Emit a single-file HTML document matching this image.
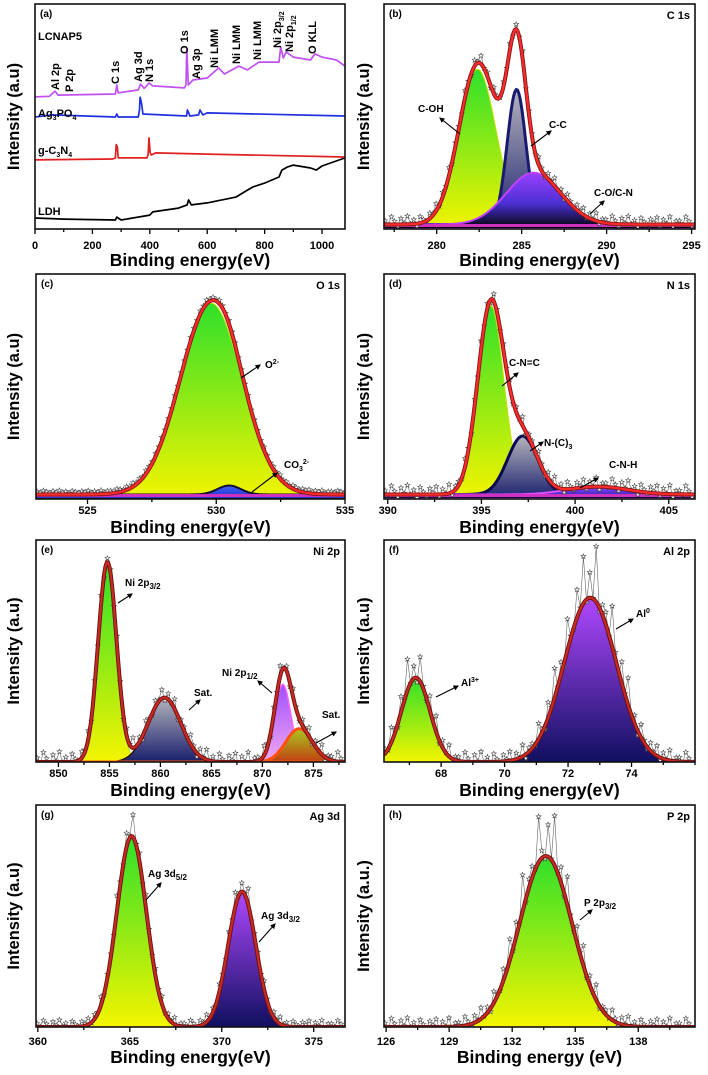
<!DOCTYPE html>
<html><head><meta charset="utf-8">
<style>
html,body{margin:0;padding:0;background:#fff;}
svg{display:block;font-family:"Liberation Sans",Arial,sans-serif;}
</style></head>
<body>
<svg id="fig" width="708" height="1075" viewBox="0 0 708 1075" xmlns="http://www.w3.org/2000/svg">
<defs>
  <symbol id="st" viewBox="-5 -5 10 10"><polygon points="0,-4.5 1.1,-1.4 4.3,-1.4 1.7,0.6 2.7,3.7 0,1.8 -2.7,3.7 -1.7,0.6 -4.3,-1.4 -1.1,-1.4" fill="#fff" stroke="#444" stroke-width="0.9"/></symbol>
  <marker id="ah" viewBox="0 0 10 10" refX="8" refY="5" markerWidth="5" markerHeight="5" orient="auto"><path d="M0,0 L10,5 L0,10 z" fill="#000"/></marker>
  <linearGradient id="gGreen" x1="0" y1="0" x2="0" y2="1"><stop offset="0" stop-color="#2ee02a"/><stop offset="1" stop-color="#f4f400"/></linearGradient>
  <linearGradient id="gNavy" x1="0" y1="0" x2="0" y2="1"><stop offset="0" stop-color="#b4b4bc"/><stop offset="1" stop-color="#1a1f6e"/></linearGradient>
  <linearGradient id="gPurpBlack" x1="0" y1="0" x2="0" y2="1"><stop offset="0" stop-color="#9a40ff"/><stop offset="0.55" stop-color="#4a30d0"/><stop offset="1" stop-color="#000"/></linearGradient>
  <linearGradient id="gViolet" x1="0" y1="0" x2="0" y2="1"><stop offset="0" stop-color="#a050ff"/><stop offset="1" stop-color="#f0a8f0"/></linearGradient>
  <linearGradient id="gOlive" x1="0" y1="0" x2="0" y2="1"><stop offset="0" stop-color="#a8c820"/><stop offset="1" stop-color="#c04010"/></linearGradient>
  <linearGradient id="gVioNavy" x1="0" y1="0" x2="0" y2="1"><stop offset="0" stop-color="#b048ff"/><stop offset="1" stop-color="#101060"/></linearGradient>
  <linearGradient id="gBlue" x1="0" y1="0" x2="0" y2="1"><stop offset="0" stop-color="#4060ff"/><stop offset="1" stop-color="#2030c0"/></linearGradient>
</defs>
</svg>
<script>
// ---------- panel (a) survey data (intensity in % of plot height) ----------
const ldhE=[0,100,280,285,300,400,410,500,530,535,545,600,700,740,760,800,850,860,880,900,960,980,1000,1080];
const ldhI=[4.9,4.4,4,5.3,4,6.2,7.6,9.3,10.7,12.9,10.7,11.6,14.2,17.3,18.7,20.4,23.1,26.2,27.6,28.4,27.1,26.2,28,31.6];
const gcnE=[0,270,280,283,287,290,390,394,397,401,405,420,600,1080];
const gcnI=[30.7,31.1,31.5,37.5,36.4,31.6,31.6,33,40.5,34,32.9,33.8,33.3,32];
const apoE=[0,60,280,285,290,360,364,366,369,372,376,528,531,540,570,575,585,600,1080];
const apoI=[49.8,50.7,49.8,51.1,49.8,49.8,53,58.6,57.3,55,51.1,50.2,52.9,50.2,50.7,52.9,50.7,51.6,50.2];
const lcnE=[0,50,70,80,280,285,290,360,368,380,398,410,520,526,529,534,550,600,640,660,710,740,780,830,850,856,865,875,900,960,975,1000,1050,1080];
const lcnI=[58.7,59,61.3,59.5,60,64,60.5,61.8,64.4,62.5,64.9,63.6,62.7,64,80.4,64,66.2,67.1,71.6,68.9,72.4,70.7,74.2,74.2,74.2,80.9,76,78.7,76.4,75.1,77.8,76.4,75.1,72.4];
const aTicks=[0,200,400,600,800,1000];

// ---------- peak-fit data (center eV, height frac, sigma eV) ----------
const bCenters=[282.4,284.7,285.7]; const bHeights=[0.69,0.6,0.23]; const bWidths=[1.1,0.55,1.6];
const bTicks=[280,285,290,295];
const cCenters=[529.8,530.5]; const cHeights=[0.85,0.04]; const cWidths=[1.2,0.45];
const cTicks=[525,530,535];
const dCenters=[395.5,397.2,401.2]; const dHeights=[0.84,0.26,0.035]; const dWidths=[0.7,0.8,1.6];
const dTicks=[390,395,400,405];
const eCenters=[854.8,860.4,872.0,873.6]; const eHeights=[0.9,0.29,0.35,0.15]; const eWidths=[0.9,1.6,0.8,1.3];
const eTicks=[850,855,860,865,870,875];
const fCenters=[67.2,72.7]; const fHeights=[0.38,0.74]; const fWidths=[0.45,0.82];
const fTicks=[68,70,72,74];
const gCenters=[365.1,371.1]; const gHeights=[0.86,0.61]; const gWidths=[0.8,0.75];
const gTicks=[360,365,370,375];
const hCenters=[133.6]; const hHeights=[0.77]; const hWidths=[1.25];
const hTicks=[126,129,132,135,138];
// scatter offset pattern for raw-data markers
const noise=[0.2,-0.5,0.9,0.1,-0.8,0.6,-0.2,1.0,-0.4,0.3,-0.9,0.7,0.0,-0.6,0.5,-0.1,0.8,-0.7,0.4,-0.3,0.95,-0.85,0.15];

const NS='http://www.w3.org/2000/svg';
const svg=document.getElementById('fig');
function mk(tag,attrs,parent){const e=document.createElementNS(NS,tag);for(const k in attrs)e.setAttribute(k,attrs[k]);(parent||svg).appendChild(e);return e;}
const defs=svg.querySelector('defs');

const panels={
 a:{box:[35,4,345,229],x0:0,x1:1080,ticks:aTicks,minor:100,lab:'(a)',title:'',yt:'Intensity (a.u)',ytx:14,off:[20,37]},
 b:{box:[384,4,695,229],x0:276.9,x1:295.2,ticks:bTicks,minor:2.5,lab:'(b)',title:'C 1s',yt:'Intensity (a.u)',ytx:364,off:[20,37],
    c:bCenters,h:bHeights,w:bWidths,base:0.02,fills:['gGreen','gNavy','gPurpBlack'],strokes:['#c8e000','#1a1a70','#c040ff'],sw:[1,3,2],env:'red',amp:0.025,spike:0},
 c:{box:[36,274,345,499],x0:523,x1:535,ticks:cTicks,minor:2.5,lab:'(c)',title:'O 1s',yt:'Intensity (a.u)',ytx:14,off:[15,34],
    c:cCenters,h:cHeights,w:cWidths,base:0.02,fills:['gGreen','gBlue'],strokes:['#c8e000','#101030'],sw:[1,2],env:'red',amp:0.006,spike:0},
 d:{box:[384,274,695,499],x0:389.8,x1:406.4,ticks:dTicks,minor:2.5,lab:'(d)',title:'N 1s',yt:'Intensity (a.u)',ytx:364,off:[15,34],
    c:dCenters,h:dHeights,w:dWidths,base:0.02,fills:['gGreen','gNavy','gPurpBlack'],strokes:['#c8e000','#0a0a50','#e050ff'],sw:[1,3,2],env:'red',amp:0.03,spike:0},
 e:{box:[36,540,345,762],x0:847.8,x1:878.1,ticks:eTicks,minor:2.5,lab:'(e)',title:'Ni 2p',yt:'Intensity (a.u)',ytx:14,off:[15,34],
    c:eCenters,h:eHeights,w:eWidths,base:0.0,fills:['gGreen','gNavy','gViolet','gOlive'],strokes:['#c8e000','#301010','#ff60ff','#ff5010'],sw:[1,1.5,1.5,3],env:'dark',amp:0.035,spike:0},
 f:{box:[384,540,695,762],x0:66.2,x1:76,ticks:fTicks,minor:1,lab:'(f)',title:'Al 2p',yt:'Intensity (a.u)',ytx:364,off:[15,34],
    c:fCenters,h:fHeights,w:fWidths,base:0.0,fills:['gGreen','gVioNavy'],strokes:['#c8e000','#301010'],sw:[1,1],env:'dark',amp:0.035,spike:0.3},
 g:{box:[36,805,345,1027],x0:359.9,x1:376.7,ticks:gTicks,minor:2.5,lab:'(g)',title:'Ag 3d',yt:'Intensity (a.u)',ytx:14,off:[18,36],
    c:gCenters,h:gHeights,w:gWidths,base:0.0,fills:['gGreen','gVioNavy'],strokes:['#c8e000','#301010'],sw:[1,1],env:'dark',amp:0.02,spike:0.08},
 h:{box:[384,805,695,1027],x0:125.9,x1:140.7,ticks:hTicks,minor:1.5,lab:'(h)',title:'P 2p',yt:'Intensity (a.u.)',ytx:364,off:[18,36],
    c:hCenters,h:hHeights,w:hWidths,base:0.0,fills:['gGreen'],strokes:['#c8e000'],sw:[1],env:'dark',amp:0.03,spike:0.25}
};

function sx(p,v){return p.box[0]+(v-p.x0)/(p.x1-p.x0)*(p.box[2]-p.box[0]);}
function sy(p,v){return p.box[3]-v*(p.box[3]-p.box[1]);}
function gauss(x,c,h,s){return h*Math.exp(-(x-c)*(x-c)/(2*s*s));}
function envAt(p,x){let v=p.base;for(let i=0;i<p.c.length;i++)v+=gauss(x,p.c[i],p.h[i],p.w[i]);return v;}

function frameAndAxes(key,p){
  const g=mk('g',{});
  
  
  const [l,t,r,b]=p.box;
  for(let v=Math.ceil(p.x0/p.minor)*p.minor; v<=p.x1+1e-9; v+=p.minor){
    const X=sx(p,v);const major=p.ticks.some(tk=>Math.abs(tk-v)<1e-6);
    const tk=mk('line',{x1:X,y1:b,x2:X,y2:b+(major?5:3),stroke:'#000','stroke-width':1.3},g);
    
    
  }
  p.ticks.forEach(v=>{
    const tl=mk('text',{x:sx(p,v),y:b+p.off[0],'font-size':11,'font-weight':'bold','text-anchor':'middle'},g);
    tl.textContent=String(v);
    
    
  });
  const fr=mk('rect',{x:l,y:t,width:r-l,height:b-t,fill:'none',stroke:'#111','stroke-width':1.6},g);
  
  
  const xt=mk('text',{x:(l+r)/2,y:b+p.off[1],'font-size':17.5,'font-weight':'bold','text-anchor':'middle'},g);
  xt.textContent=key==='h'?'Binding energy (eV)':'Binding energy(eV)';
  
  
  const cy=(t+b)/2;
  const yt=mk('text',{x:p.ytx,y:cy,'font-size':16.5,'font-weight':'bold','text-anchor':'middle',transform:`rotate(-90 ${p.ytx} ${cy})`,'dominant-baseline':'central'},g);
  yt.textContent=p.yt;
  
  
  const pl=mk('text',{x:l+5,y:t+13,'font-size':10,'font-weight':'bold'},g);
  pl.textContent=p.lab;
  
  
  if(p.title){
    const pt=mk('text',{x:r-5,y:t+15,'font-size':11,'font-weight':'bold','text-anchor':'end'},g);
    pt.textContent=p.title;
    
    
  }
}

function clipFor(key,p){
  const cp=mk('clipPath',{id:'clip'+key},defs);
  mk('rect',{x:p.box[0],y:p.box[1],width:p.box[2]-p.box[0],height:p.box[3]-p.box[1]},cp);
  return 'url(#clip'+key+')';
}

function drawFit(key,p){
  const g=mk('g',{'clip-path':clipFor(key,p)});
  
  
  const N=240;
  for(let i=0;i<p.c.length;i++){
    let pts=[];
    for(let k=0;k<=N;k++){const x=p.x0+(p.x1-p.x0)*k/N;pts.push([sx(p,x),sy(p,p.base+gauss(x,p.c[i],p.h[i],p.w[i]))]);}
    const d='M'+sx(p,p.x0)+','+sy(p,0)+' L'+pts.map(q=>q[0].toFixed(1)+','+q[1].toFixed(1)).join(' L')+' L'+sx(p,p.x1)+','+sy(p,0)+' Z';
    const pk=mk('path',{d:d,fill:'url(#'+p.fills[i]+')',stroke:p.strokes[i],'stroke-width':p.sw[i]},g);
    
    
  }
  const bl=mk('line',{x1:p.box[0],y1:sy(p,p.base)+1,x2:p.box[2],y2:sy(p,p.base)+1,stroke:p.env==='red'?'#d030c0':'#151560','stroke-width':3},g);
  
  
  let sp=[];let i=0;
  for(let X=p.box[0]+1;X<p.box[2];X+=3.2,i++){
    const x=p.x0+(X-p.box[0])/(p.box[2]-p.box[0])*(p.x1-p.x0);
    const e=envAt(p,x);const n=noise[i%noise.length];
    let v=e+n*p.amp+(n>0?n*e*p.spike:0)+0.012;
    sp.push([X,sy(p,v)]);
  }
  const rl=mk('polyline',{points:sp.map(q=>q[0].toFixed(1)+','+q[1].toFixed(1)).join(' '),fill:'none',stroke:'#666','stroke-width':0.6},g);
  
  
  sp.forEach(q=>{
    const s=mk('use',{href:'#st',x:q[0]-3,y:q[1]-3,width:6,height:6},g);
    
    
  });
  let ep=[];
  for(let k=0;k<=N;k++){const x=p.x0+(p.x1-p.x0)*k/N;ep.push(sx(p,x).toFixed(1)+','+sy(p,envAt(p,x)).toFixed(1));}
  const e1=mk('polyline',{points:ep.join(' '),fill:'none',stroke:p.env==='red'?'#801818':'#6a1010','stroke-width':4},g);
  
  
  const e2=mk('polyline',{points:ep.join(' '),fill:'none',stroke:p.env==='red'?'#ff2a2a':'#c82a22','stroke-width':2.2},g);
  
  
}

(function(){
  const p=panels.a;
  const g=mk('g',{'clip-path':clipFor('a',p)});
  
  
  const series=[[ldhE,ldhI,'#000','ldh-line'],[gcnE,gcnI,'#e02020','gc3n4-line'],[apoE,apoI,'#2030e0','ag3po4-line'],[lcnE,lcnI,'#c050f0','lcnap5-line']];
  series.forEach(s=>{
    const pts=s[0].map((e,k)=>sx(p,e).toFixed(1)+','+(p.box[3]-s[1][k]/100*(p.box[3]-p.box[1])).toFixed(1)).join(' ');
    const pl=mk('polyline',{points:pts,fill:'none',stroke:s[2],'stroke-width':1.7,'stroke-linejoin':'round'},g);
    
    
  });
  const t1=mk('text',{x:38,y:40,'font-size':11,'font-weight':'bold'});t1.textContent='LCNAP5';
  
  
  const t2=mk('text',{x:38,y:117,'font-size':11,'font-weight':'bold'});
  t2.innerHTML='Ag<tspan font-size="7" dy="3">3</tspan><tspan dy="-3">PO</tspan><tspan font-size="7" dy="3">4</tspan>';
  
  
  const t3=mk('text',{x:38,y:154,'font-size':11,'font-weight':'bold'});
  t3.innerHTML='g-C<tspan font-size="7" dy="3">3</tspan><tspan dy="-3">N</tspan><tspan font-size="7" dy="3">4</tspan>';
  
  
  const t4=mk('text',{x:38,y:215,'font-size':11,'font-weight':'bold'});t4.textContent='LDH';
  
  
  const vl=[['Al 2p',59,90],['P 2p',73,92],['C 1s',119,84],['Ag 3d',142,82],['N 1s',153,82],['O 1s',188,54],['Ag 3p',200,79],['Ni LMM',218,68],['Ni LMM',240,64],['Ni LMM',261,60],['Ni 2p3/2',281,48],['Ni 2p1/2',293,52],['O KLL',316,54]];
  vl.forEach(v=>{
    const tx=mk('text',{x:v[1],y:v[2],'font-size':11,'font-weight':'bold',transform:`rotate(-90 ${v[1]} ${v[2]})`});
    if(v[0].startsWith('Ni 2p')){tx.innerHTML='Ni 2p<tspan font-size="7" dy="3">'+v[0].slice(5)+'</tspan>';}
    else tx.textContent=v[0];
    
    
  });
})();

['b','c','d','e','f','g','h'].forEach(k=>drawFit(k,panels[k]));
Object.keys(panels).forEach(k=>frameAndAxes(k,panels[k]));

const notes=[
 ['C-OH',418,112,460,134,440,118],
 ['C-C',549,128,531,146,551,131],
 ['C-O/C-N',594,196,590,214,604,201],
 ['O<tspan font-size="7" dy="-4">2-</tspan>',265,368,241,378,260,365],
 ['CO<tspan font-size="7" dy="3">3</tspan><tspan font-size="7" dy="-7">2-</tspan>',284,468,252,492,277,473],
 ['C-N=C',509,366,502,386,518,373],
 ['N-(C)<tspan font-size="7" dy="3">3</tspan>',544,446,530,451,543,442],
 ['C-N-H',609,468,580,488,598,478],
 ['Ni 2p<tspan font-size="8" dy="3">3/2</tspan>',125,586,118,603,132,594],
 ['Sat.',194,696,189,710,200,700],
 ['Ni 2p<tspan font-size="8" dy="3">1/2</tspan>',222,676,272,693,258,681],
 ['Sat.',322,718,316,743,336,732],
 ['Al<tspan font-size="7" dy="-4">3+</tspan>',461,686,436,697,458,686],
 ['Al<tspan font-size="7" dy="-4">0</tspan>',636,617,616,629,633,619],
 ['Ag 3d<tspan font-size="8" dy="3">5/2</tspan>',148,877,146,900,161,883],
 ['Ag 3d<tspan font-size="8" dy="3">3/2</tspan>',261,919,259,942,275,924],
 ['P 2p<tspan font-size="8" dy="3">3/2</tspan>',584,906,580,920,592,910]
];
notes.forEach(n=>{
  const a=mk('line',{x1:n[3],y1:n[4],x2:n[5],y2:n[6],stroke:'#000','stroke-width':1.1,'marker-end':'url(#ah)'});
  
  
  const t=mk('text',{x:n[1],y:n[2],'font-size':10,'font-weight':'bold'});
  t.innerHTML=n[0];
  
  
});
</script>
</body></html>
